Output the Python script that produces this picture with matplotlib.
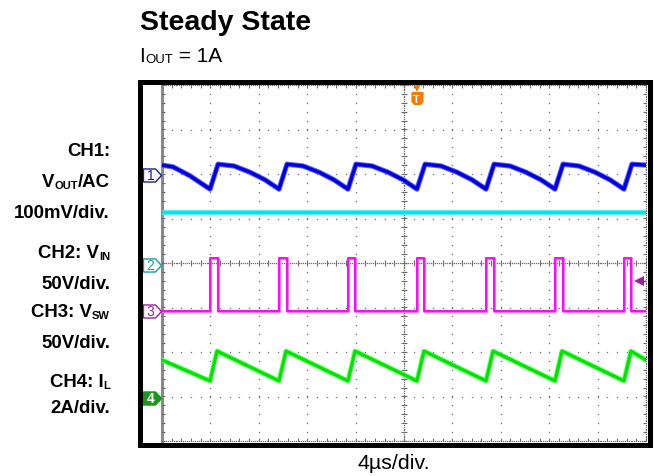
import numpy as np
import matplotlib.pyplot as plt
from matplotlib.patches import Rectangle
from matplotlib.path import Path

plt.rcParams['font.family'] = ['Liberation Sans', 'DejaVu Sans']

# ---- data (time in us) ----
# VSW switch-on / switch-off instants
sw_on_us = [3.97, 9.67, 15.37, 21.07, 26.78, 32.48, 38.18]
sw_off_us = [4.59, 10.29, 15.99, 21.69, 27.40, 33.10, 38.80]
vsw_high = 59.0   # V
vsw_low = 0.0

# CH1 VOUT ripple, AC coupled (mV)
ch1_t = [0.0, 0.91, 2.31, 3.80, 3.97, 4.63, 5.95, 7.27, 8.51, 9.67,
         10.33, 11.65, 12.98, 14.21, 15.37, 16.03, 17.36, 18.68, 19.92, 21.07,
         21.74, 23.06, 24.38, 25.62, 26.78, 27.44, 28.76, 30.08, 31.32, 32.48,
         33.14, 34.46, 35.79, 37.02, 38.18, 38.84, 40.0]
ch1_mv = [22, 18, -2, -29, -32, 24, 20, 6, -11, -32,
          24, 20, 6, -11, -32, 24, 20, 6, -11, -32,
          24, 20, 6, -11, -32, 24, 20, 6, -11, -32,
          24, 20, 6, -11, -32, 24, 22]

# CH2 VIN (V)
ch2_t = [0.0, 40.0]
ch2_v = [59.3, 59.3]

# CH4 inductor current (A)
ch4_t = [0.0, 3.97, 4.55, 9.67, 10.25, 15.37, 15.95, 21.07, 21.65,
         26.78, 27.36, 32.48, 33.06, 38.18, 38.76, 40.0]
ch4_a = [1.70, 0.76, 2.10, 0.76, 2.10, 0.76, 2.10, 0.76, 2.10,
         0.76, 2.10, 0.76, 2.10, 0.76, 2.10, 1.70]

# channel ground offsets (div) and scales (unit/div)
ch_offset = {1: 1.98, 2: -0.04, 3: -1.07, 4: -3.03}
ch_scale = {1: 100.0, 2: 50.0, 3: 50.0, 4: 2.0}
trig_us = 21.05
trig_level_v = 33.5   # on CH3

# build the switch node square wave from the edge times
ch3_t = [0.0]
ch3_v = [vsw_low]
for on, off in zip(sw_on_us, sw_off_us):
    ch3_t += [on, on, off, off]
    ch3_v += [vsw_low, vsw_high, vsw_high, vsw_low]
ch3_t.append(40.0)
ch3_v.append(vsw_low)


def to_div(ch, vals):
    return ch_offset[ch] + np.array(vals) / ch_scale[ch]


fig = plt.figure(figsize=(6.54, 4.77), dpi=100)
ax = fig.add_axes([162 / 654, 35 / 477, 484 / 654, 356 / 477])
ax.set_xlim(0, 40)
ax.set_ylim(-4, 4)
ax.axis('off')

# outer black frame of the screen
fig.patches.append(Rectangle((139.5 / 654, 31.5 / 477), 510.5 / 654, 362.5 / 477,
                             transform=fig.transFigure, fill=False,
                             lw=3.6, edgecolor='black'))

# ---- graticule ----
gray = '#6e6e6e'
dot = dict(ls='none', marker='s', ms=0.9, mew=0, color=gray, zorder=1)
minor_x = np.arange(0, 40.01, 0.8)
minor_y = np.arange(-4, 4.01, 0.2)
for gx in np.arange(4, 40, 4):
    if gx != 20:
        ax.plot(np.full_like(minor_y, gx), minor_y, **dot)
for gy in np.arange(-3, 4, 1):
    if gy != 0:
        ax.plot(minor_x, np.full_like(minor_x, gy), **dot)

fine_x = np.arange(0, 40.01, 0.16)
fine_y = np.arange(-4, 4.01, 0.04)
# centre lines and edges: dense dots plus ticks
for yy in [0, 4, -4]:
    ax.plot(fine_x, np.full_like(fine_x, yy), **dot)
    ax.plot(minor_x, np.full_like(minor_x, yy), ls='none', marker='|',
            ms=4.5, mew=0.8, color=gray, zorder=1)
for xx in [20, 40]:
    ax.plot(np.full_like(fine_y, xx), fine_y, **dot)
    ax.plot(np.full_like(minor_y, xx), minor_y, ls='none', marker='_',
            ms=4.5, mew=0.8, color=gray, zorder=1)
ax.axvline(0, color='#8a8a8a', lw=2.2, zorder=1, clip_on=False)
ax.plot(np.full_like(minor_y, 0), minor_y, ls='none', marker='_',
        ms=4.5, mew=0.8, color=gray, zorder=1)

# ---- traces ----
ax.plot(ch2_t, to_div(2, ch2_v), color='#6ff0f0', lw=3.8, zorder=3, solid_capstyle='butt')
ax.plot(ch2_t, to_div(2, ch2_v), color='#00e6ee', lw=2.4, zorder=3, solid_capstyle='butt')
ax.plot(ch1_t, to_div(1, ch1_mv), color='#6060ff', lw=3.8, zorder=3)
ax.plot(ch1_t, to_div(1, ch1_mv), color='#0000dc', lw=2.4, zorder=3)
ax.plot(ch3_t, to_div(3, ch3_v), color='#ff70ff', lw=2.2, zorder=3)
ax.plot(ch3_t, to_div(3, ch3_v), color='#ff00ff', lw=1.3, zorder=3)
ax.plot(ch4_t, to_div(4, ch4_a), color='#70ff70', lw=3.6, zorder=3)
ax.plot(ch4_t, to_div(4, ch4_a), color='#00e400', lw=2.3, zorder=3)

# ---- channel markers at the left ----
pent = Path([(-9, -6.5), (3, -6.5), (9, 0), (3, 6.5), (-9, 6.5), (-9, -6.5)],
            [Path.MOVETO] + [Path.LINETO] * 4 + [Path.CLOSEPOLY])
mk_color = {1: '#1c1ca8', 2: '#1a9c9c', 3: '#a01ea0', 4: '#189a18'}
for ch in [1, 2, 3, 4]:
    filled = ch == 4
    ax.plot([-0.83], [ch_offset[ch]], marker=pent, ms=13, mew=1.0,
            mec=mk_color[ch], mfc=mk_color[ch] if filled else 'white',
            clip_on=False, zorder=5)
    ax.text(-0.95, ch_offset[ch], str(ch), fontsize=10,
            color='white' if filled else mk_color[ch],
            fontweight='bold' if filled else 'normal',
            ha='center', va='center', zorder=6)

# trigger position marker
orange = '#f57800'
shield = Path([(-5.5, 6), (5.5, 6), (5.5, -3), (3, -6), (-3, -6), (-5.5, -3), (-5.5, 6)],
              [Path.MOVETO] + [Path.LINETO] * 5 + [Path.CLOSEPOLY])
ax.plot([trig_us], [3.945], marker='v', ms=7, mew=0, color=orange, clip_on=False, zorder=6)
ax.plot([trig_us], [3.71], marker=shield, ms=9.5, mew=0, color=orange, clip_on=False, zorder=6)
ax.text(trig_us, 3.70, 'T', fontsize=8, fontweight='bold', color='white',
        ha='center', va='center_baseline', zorder=7)

# trigger level marker (CH3)
lvl = to_div(3, [trig_level_v])[0]
ax.plot([39.4], [lvl], marker='<', ms=7, mew=0, color='#a01ea0', zorder=6)
ax.plot([39.5, 40.0], [lvl, lvl], color='#a01ea0', lw=1.0, zorder=6)


# ---- texts ----
def rich(x, y, parts, ha='left', weight='normal'):
    seq = parts if ha == 'left' else parts[::-1]
    prev = None
    for txt, size in seq:
        if prev is None:
            prev = fig.text(x, y, txt, fontsize=size, fontweight=weight,
                            ha=ha, va='baseline')
        else:
            prev = ax.annotate(txt, xy=(1 if ha == 'left' else 0, 0), xycoords=prev,
                               fontsize=size, fontweight=weight, ha=ha,
                               va='bottom', annotation_clip=False)


fig.text(140.3 / 654, 447 / 477, 'Steady State', fontsize=20.5,
         fontweight='bold', ha='left', va='baseline')
rich(139.5 / 654, 415.3 / 477, [('I', 15), ('OUT', 9.5), (' = 1A', 15)])

big, small = 13.4, 8
xr = 110 / 654
rich(xr, 0.6730, [('CH1:', big)], ha='right', weight='bold')
rich(xr, 0.6086, [('V', big), ('OUT', small), ('/AC', big)], ha='right', weight='bold')
rich(xr, 0.5423, [('100mV/div.', big)], ha='right', weight='bold')
rich(xr, 0.4549, [('CH2: V', big), ('IN', small)], ha='right', weight='bold')
rich(xr, 0.3935, [('50V/div.', big)], ha='right', weight='bold')
rich(xr, 0.3306, [('CH3: V', big), ('SW', small)], ha='right', weight='bold')
rich(xr, 0.2698, [('50V/div.', big)], ha='right', weight='bold')
rich(xr, 0.1838, [('CH4: I', big), ('L', small)], ha='right', weight='bold')
rich(xr, 0.1348, [('2A/div.', big)], ha='right', weight='bold')

fig.text(394 / 654, 7.7 / 477, '4µs/div.', fontsize=15.4, ha='center', va='baseline')

fig.savefig('out.png', dpi=100)
